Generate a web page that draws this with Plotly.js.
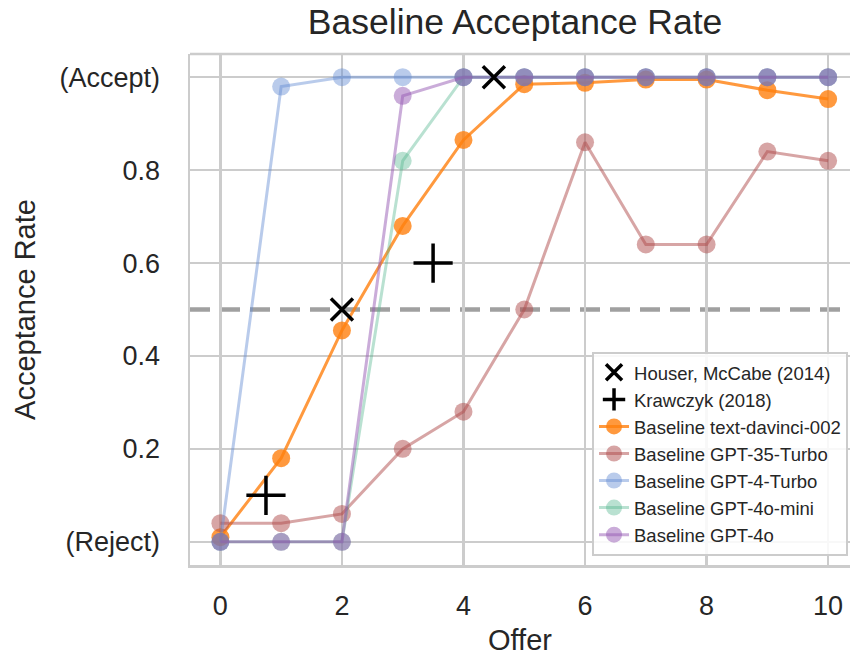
<!DOCTYPE html>
<html>
<head>
<meta charset="utf-8">
<script src="https://cdn.plot.ly/plotly-3.0.1.min.js"></script>
<style>html,body{margin:0;padding:0;background:#fff;}#chart{width:850px;height:663px;}</style>
</head>
<body>
<div id="chart"></div>
<script>
const offers = [0, 1, 2, 3, 4, 5, 6, 7, 8, 9, 10];
const davinci002 = [0.01, 0.18, 0.455, 0.68, 0.865, 0.985, 0.988, 0.995, 0.995, 0.972, 0.953];
const gpt35Turbo = [0.04, 0.04, 0.06, 0.2, 0.28, 0.5, 0.86, 0.64, 0.64, 0.84, 0.82];
const gpt4Turbo = [0.0, 0.98, 1, 1, 1, 1, 1, 1, 1, 1, 1];
const gpt4oMini = [0, 0, 0, 0.82, 1, 1, 1, 1, 1, 1, 1];
const gpt4o = [0, 0, 0, 0.96, 1, 1, 1, 1, 1, 1, 1];
const houserX = [2, 4.5];
const houserY = [0.5, 1.0];
const krawczykX = [0.75, 3.5];
const krawczykY = [0.1, 0.6];
const yTickVals = [0, 0.2, 0.4, 0.6, 0.8, 1];
const yTickText = ["(Reject)", "0.2", "0.4", "0.6", "0.8", "(Accept)"];
const xTickVals = [0, 2, 4, 6, 8, 10];

const FONT = "Liberation Sans, Arial, sans-serif";
const TXT = "#262626";

function series(name, y, color, rank) {
  return {
    x: offers, y: y, name: name, type: "scatter", mode: "lines+markers",
    line: {color: color, width: 3},
    marker: {color: color, size: 18, line: {width: 0}},
    legendrank: rank
  };
}

const traces = [
  series("Baseline text-davinci-002", davinci002, "rgba(255,127,14,0.8)", 3),
  series("Baseline GPT-35-Turbo", gpt35Turbo, "rgba(175,75,75,0.5)", 4),
  series("Baseline GPT-4-Turbo", gpt4Turbo, "rgba(100,140,210,0.45)", 5),
  series("Baseline GPT-4o-mini", gpt4oMini, "rgba(80,180,140,0.4)", 6),
  series("Baseline GPT-4o", gpt4o, "rgba(150,90,180,0.5)", 7),
  {x: houserX, y: houserY, name: "Houser, McCabe (2014)", type: "scatter", mode: "markers",
   marker: {symbol: "x-thin-open", size: 22, color: "black", line: {color: "black", width: 3.5}}, legendrank: 1},
  {x: krawczykX, y: krawczykY, name: "Krawczyk (2018)", type: "scatter", mode: "markers",
   marker: {symbol: "cross-thin-open", size: 28, color: "black", line: {color: "black", width: 3.5}}, legendrank: 2}
];

const layout = {
  width: 850, height: 663,
  margin: {l: 190, r: 0, t: 54, b: 98},
  paper_bgcolor: "white", plot_bgcolor: "white",
  font: {family: FONT, color: TXT},
  title: {text: "Baseline Acceptance Rate", font: {size: 35.5, color: TXT, family: FONT},
          x: 0.606, xanchor: "center", y: 0.967, yanchor: "middle", xref: "container", yref: "container"},
  xaxis: {
    range: [-0.5, 10.36], tickvals: xTickVals, ticktext: xTickVals.map(String),
    showgrid: true, gridcolor: "#cccccc", gridwidth: 2.5, zeroline: false,
    showline: true, linecolor: "#cccccc", linewidth: 2.5,
    ticks: "", ticklabelstandoff: 15,
    tickfont: {size: 27, color: TXT, family: FONT},
    title: {text: "Offer", font: {size: 29, color: TXT, family: FONT}, standoff: 10}
  },
  yaxis: {
    range: [-0.05, 1.05], tickvals: yTickVals, ticktext: yTickText,
    showgrid: true, gridcolor: "#cccccc", gridwidth: 2.5, zeroline: false,
    showline: true, linecolor: "#cccccc", linewidth: 2.5,
    ticks: "", ticklabelstandoff: 22,
    tickfont: {size: 27, color: TXT, family: FONT},
    title: {text: "Acceptance Rate", font: {size: 29, color: TXT, family: FONT}, standoff: 16}
  },
  shapes: [
    {type: "line", xref: "paper", yref: "y", x0: 0, x1: 1, y0: 0.5, y1: 0.5,
     line: {color: "rgba(150,150,150,0.9)", width: 4.5, dash: "20px,10px"}, layer: "between"},
    {type: "line", xref: "paper", yref: "paper", x0: 0, x1: 1, y0: 1, y1: 1,
     line: {color: "#cccccc", width: 2.5}, layer: "below"}
  ],
  showlegend: true,
  legend: {
    x: 0.997, xanchor: "right", y: 0.018, yanchor: "bottom",
    bgcolor: "rgba(255,255,255,0.85)", bordercolor: "#cccccc", borderwidth: 2,
    font: {size: 18.5, color: TXT, family: FONT}
  }
};

Plotly.newPlot("chart", traces, layout, {displayModeBar: false, staticPlot: true});
</script>
</body>
</html>
